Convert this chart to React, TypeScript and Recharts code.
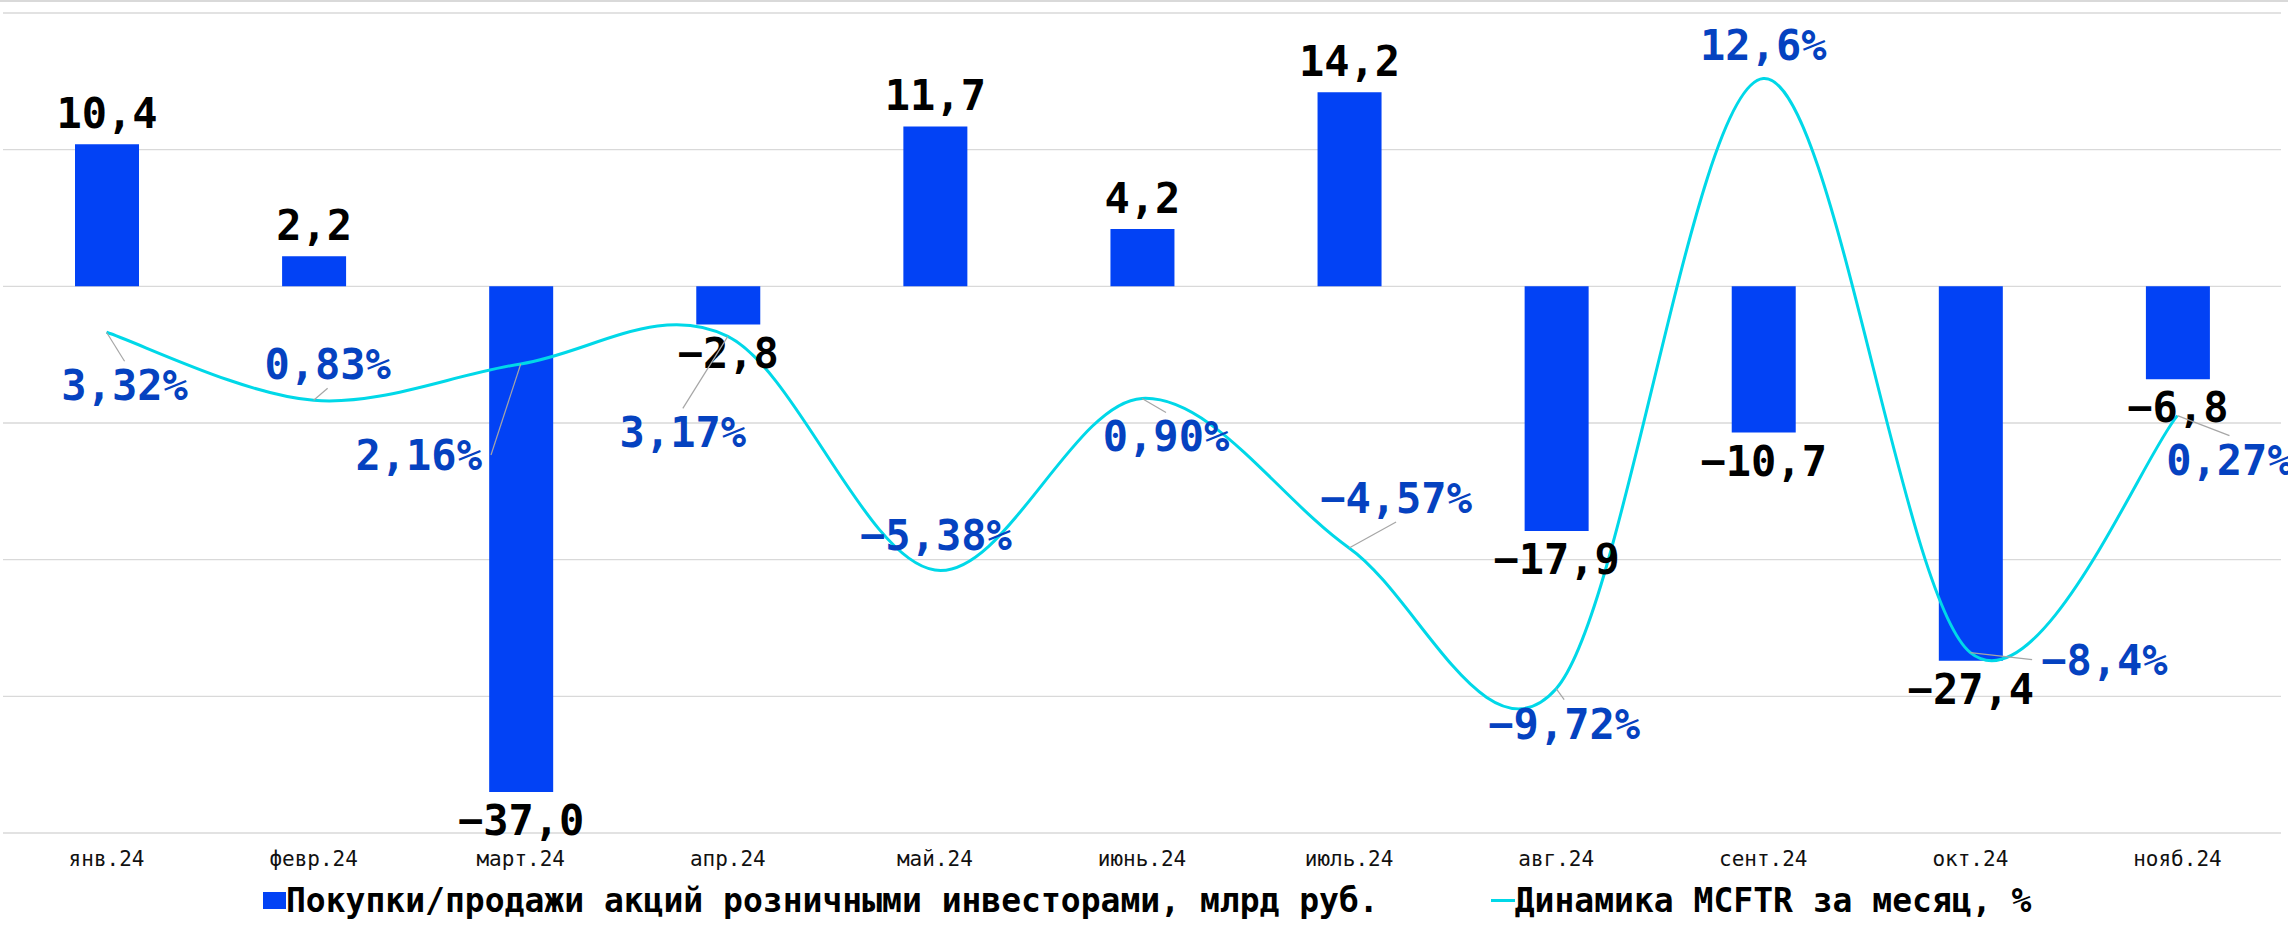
import React from 'react';
import {
  ComposedChart,
  Bar,
  Line,
  XAxis,
  YAxis,
  CartesianGrid,
  LabelList,
  Legend,
} from 'recharts';

// --- data ---
const months = ['янв.24', 'февр.24', 'март.24', 'апр.24', 'май.24', 'июнь.24', 'июль.24', 'авг.24', 'сент.24', 'окт.24', 'нояб.24'];
const retailFlows = [10.4, 2.2, -37.0, -2.8, 11.7, 4.2, 14.2, -17.9, -10.7, -27.4, -6.8];
const mcftrChange = [3.32, 0.83, 2.16, 3.17, -5.38, 0.9, -4.57, -9.72, 12.6, -8.4, 0.27];
const mcftrText = ['3,32%', '0,83%', '2,16%', '3,17%', '−5,38%', '0,90%', '−4,57%', '−9,72%', '12,6%', '−8,4%', '0,27%'];

// label placement (moved by hand in the original), offsets of label centre from the point
const lineLabelShift = [[18, 53], [14, -36], [-102, 91], [-45, 96], [1, -35], [24, 38], [47, -50], [8, 35], [0, -34], [134, 7], [52, 44]];
const lineLeader = [true, true, true, true, false, true, true, true, false, true, true];

const BAR_COLOR = '#0242F5';
const LINE_COLOR = '#00D8E8';
const LABEL_BLUE = '#0542C0';
const MONO = '"DejaVu Sans Mono", monospace';

const chartData = months.map((m, i) => ({ month: m, flow: retailFlows[i], mcftr: mcftrChange[i] }));

const fmtFlow = (v: number) => v.toFixed(1).replace('.', ',').replace('-', '−');

// Excel-like smoothed line (Catmull-Rom through the points)
const excelSmooth = (context: any) => {
  let pts: number[][] = [];
  return {
    areaStart() {},
    areaEnd() {},
    lineStart() {
      pts = [];
    },
    point(x: number, y: number) {
      pts.push([+x, +y]);
    },
    lineEnd() {
      if (!pts.length) return;
      context.moveTo(pts[0][0], pts[0][1]);
      for (let i = 0; i < pts.length - 1; i++) {
        const p0 = pts[i - 1] || pts[i];
        const p1 = pts[i];
        const p2 = pts[i + 1];
        const p3 = pts[i + 2] || p2;
        context.bezierCurveTo(
          p1[0] + (p2[0] - p0[0]) / 6,
          p1[1] + (p2[1] - p0[1]) / 6,
          p2[0] - (p3[0] - p1[0]) / 6,
          p2[1] - (p3[1] - p1[1]) / 6,
          p2[0],
          p2[1]
        );
      }
    },
  };
};

const BarValueLabel = (props: any) => {
  const { x, y, width, height, value } = props;
  const top = Math.min(y, y + height);
  const bottom = Math.max(y, y + height);
  const v = Number(value);
  const ty = v >= 0 ? top - 16 : bottom + 43;
  return (
    <text x={x + width / 2} y={ty} textAnchor="middle" fill="#000" fontFamily={MONO} fontWeight="bold" fontSize={42}>
      {fmtFlow(v)}
    </text>
  );
};

const LineValueLabel = (props: any) => {
  const { x, y, index } = props;
  const [dx, dy] = lineLabelShift[index];
  const text = mcftrText[index];
  const cx = x + dx;
  const cy = y + dy;
  const halfW = (text.length * 25.3) / 2 + 9;
  const halfH = 15 + 9;
  let ax: number;
  let ay: number;
  if (x >= cx - halfW && x <= cx + halfW) {
    ax = cx;
    ay = y < cy ? cy - halfH : cy + halfH;
  } else {
    ax = x < cx ? cx - halfW : cx + halfW;
    ay = cy;
  }
  return (
    <g>
      {lineLeader[index] && <line x1={x} y1={y} x2={ax} y2={ay} stroke="#a6a6a6" strokeWidth={1.2} />}
      <text x={cx} y={cy + 15} textAnchor="middle" fill={LABEL_BLUE} fontFamily={MONO} fontWeight="bold" fontSize={42}>
        {text}
      </text>
    </g>
  );
};

const MonthTick = (props: any) => {
  const { x, y, payload } = props;
  return (
    <text x={x} y={y + 25} textAnchor="middle" fill="#111" fontFamily={MONO} fontSize={21}>
      {payload.value}
    </text>
  );
};

const renderLegend = () => (
  <div
    style={{
      display: 'flex',
      alignItems: 'center',
      height: 50,
      paddingLeft: 263,
      fontFamily: MONO,
      fontWeight: 'bold',
      fontSize: 33,
      color: '#000',
      whiteSpace: 'pre',
    }}
  >
    <span style={{ display: 'inline-block', width: 23, height: 17, background: BAR_COLOR }} />
    <span>Покупки/продажи акций розничными инвесторами, млрд руб.</span>
    <span style={{ display: 'inline-block', width: 24, height: 3, marginLeft: 112, background: LINE_COLOR }} />
    <span>Динамика MCFTR за месяц, %</span>
  </div>
);

const App: React.FC = () => {
  return (
    <div style={{ position: 'absolute', left: 0, top: 0, width: 2288, height: 928, background: '#fff' }}>
      <div style={{ position: 'absolute', left: 0, top: 0, width: 2288, borderTop: '2px solid #d9d9d9' }} />
      <ComposedChart
        width={2288}
        height={928}
        data={chartData}
        margin={{ top: 13, right: 7, bottom: 15, left: 3 }}
      >
        <CartesianGrid yAxisId="left" stroke="#d9d9d9" strokeWidth={1.3} vertical={false} />
        <XAxis
          dataKey="month"
          axisLine={false}
          tickLine={false}
          interval={0}
          height={30}
          tick={<MonthTick />}
        />
        <YAxis yAxisId="left" domain={[-40, 20]} ticks={[-40, -30, -20, -10, 0, 10, 20]} hide />
        <YAxis yAxisId="right" orientation="right" domain={[-15, 15]} hide />
        <Legend
          verticalAlign="bottom"
          content={renderLegend}
          wrapperStyle={{ position: 'absolute', top: 875, left: 0, width: 2288, height: 50, margin: 0, padding: 0 }}
        />
        <Bar yAxisId="left" dataKey="flow" fill={BAR_COLOR} barSize={64} isAnimationActive={false}>
          <LabelList dataKey="flow" content={<BarValueLabel />} />
        </Bar>
        <Line
          yAxisId="right"
          dataKey="mcftr"
          type={excelSmooth as any}
          stroke={LINE_COLOR}
          strokeWidth={3}
          dot={false}
          activeDot={false}
          isAnimationActive={false}
        >
          <LabelList dataKey="mcftr" content={<LineValueLabel />} />
        </Line>
      </ComposedChart>
    </div>
  );
};

export default App;
